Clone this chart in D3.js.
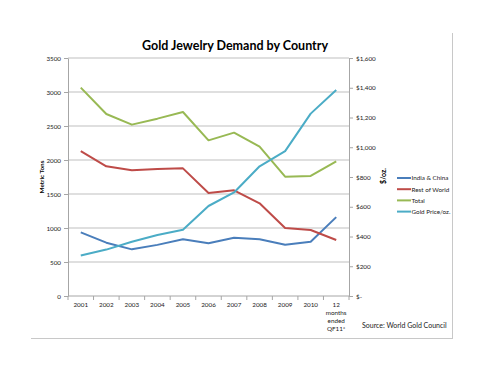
<!DOCTYPE html>
<html>
<head>
<meta charset="utf-8">
<script src="https://cdn.jsdelivr.net/npm/d3@7"></script>
<style>
  body { margin: 0; background: #fff; }
  svg { font-family: Lato, "Open Sans", sans-serif; }
</style>
</head>
<body>
<div id="chart"></div>
<script>
const categories = ['2001', '2002', '2003', '2004', '2005', '2006', '2007', '2008', '2009', '2010', '12 months ended QF11*']
const indiaChina = [936, 784, 686, 752, 834, 775, 857, 834, 755, 799, 1160]
const restOfWorld = [2132, 1907, 1848, 1868, 1877, 1515, 1554, 1363, 1000, 970, 824]
const total = [3064, 2676, 2520, 2608, 2706, 2289, 2402, 2196, 1755, 1765, 1981]
const goldPrice = [272, 312, 365, 410, 445, 605, 696, 872, 974, 1226, 1385]
const leftTicks = [0, 500, 1000, 1500, 2000, 2500, 3000, 3500]
const rightTicks = [0, 200, 400, 600, 800, 1000, 1200, 1400, 1600]

const series = [
  { name: 'India & China', values: indiaChina, axis: 'left', color: '#4a7ebb' },
  { name: 'Rest of World', values: restOfWorld, axis: 'left', color: '#be4b48' },
  { name: 'Total', values: total, axis: 'left', color: '#98b954' },
  { name: 'Gold Price/oz.', values: goldPrice, axis: 'right', color: '#4bacc6' }
]

const width = 490, height = 378
const plot = { left: 68, right: 349, top: 58, bottom: 296 }

const svg = d3.select('#chart').append('svg')
  .attr('width', width)
  .attr('height', height)

// frame lines
svg.append('line').attr('x1', 452.5).attr('x2', 452.5).attr('y1', 33).attr('y2', 338)
  .attr('stroke', '#c8c8c8')
svg.append('line').attr('x1', 31).attr('x2', 453).attr('y1', 338.5).attr('y2', 338.5)
  .attr('stroke', '#c8c8c8')

svg.append('text')
  .attr('x', 235).attr('y', 50)
  .attr('text-anchor', 'middle')
  .attr('font-size', 12.5).attr('font-weight', 'bold').attr('fill', '#000')
  .text('Gold Jewelry Demand by Country')

const x = d3.scaleBand().domain(categories).range([plot.left, plot.right])
const yL = d3.scaleLinear().domain([0, 3500]).range([plot.bottom, plot.top])
const yR = d3.scaleLinear().domain([0, 1600]).range([plot.bottom, plot.top])

// gridlines
svg.append('g').selectAll('line')
  .data(leftTicks.filter(d => d > 0))
  .join('line')
  .attr('x1', plot.left).attr('x2', plot.right)
  .attr('y1', d => yL(d)).attr('y2', d => yL(d))
  .attr('stroke', '#d4d4d4').attr('stroke-width', 1.6)

const styleAxis = g => {
  g.select('.domain').attr('stroke', '#a6a6a6')
  g.selectAll('.tick line').attr('stroke', '#a6a6a6')
  g.selectAll('.tick text').attr('fill', '#222').attr('font-size', 6.3)
    .attr('font-family', 'Lato, "Open Sans", sans-serif')
}

svg.append('g')
  .attr('transform', `translate(${plot.left},0)`)
  .call(d3.axisLeft(yL).tickValues(leftTicks).tickSize(4).tickSizeOuter(0).tickPadding(3)
    .tickFormat(d3.format('d')))
  .call(styleAxis)

svg.append('g')
  .attr('transform', `translate(${plot.right},0)`)
  .call(d3.axisRight(yR).tickValues(rightTicks).tickSize(4).tickSizeOuter(0).tickPadding(3)
    .tickFormat(d => d === 0 ? '$-' : '$' + d3.format(',')(d)))
  .call(styleAxis)

// x axis: ticks between categories
const xg = svg.append('g')
  .attr('transform', `translate(0,${plot.bottom})`)
xg.append('line').attr('x1', plot.left).attr('x2', plot.right)
  .attr('stroke', '#a6a6a6')
xg.selectAll('line.tk')
  .data(categories.map(c => x(c)).concat([plot.right]))
  .join('line').attr('class', 'tk')
  .attr('x1', d => d).attr('x2', d => d).attr('y1', 0).attr('y2', 4)
  .attr('stroke', '#a6a6a6')
categories.forEach(c => {
  const words = c.split(' ')
  const lines = words.length > 1 ? ['12', 'months', 'ended', 'QF11*'] : [c]
  const t = xg.append('text')
    .attr('x', x(c) + x.bandwidth() / 2).attr('y', 11)
    .attr('text-anchor', 'middle').attr('font-size', 6.3).attr('fill', '#222')
  lines.forEach((l, i) => t.append('tspan')
    .attr('x', x(c) + x.bandwidth() / 2).attr('dy', i === 0 ? 0 : 8).text(l))
})

// axis titles
svg.append('text')
  .attr('transform', 'translate(44,177) rotate(-90)')
  .attr('text-anchor', 'middle').attr('font-size', 6.3).attr('font-weight', 'bold')
  .text('Metric Tons')
svg.append('text')
  .attr('transform', 'translate(386,176) rotate(-90)')
  .attr('text-anchor', 'middle').attr('font-size', 7).attr('font-weight', 'bold')
  .text('$/oz.')

// lines
const line = s => d3.line()
  .x((d, i) => x(categories[i]) + x.bandwidth() / 2)
  .y(d => s.axis === 'left' ? yL(d) : yR(d))

svg.append('g').selectAll('path')
  .data(series)
  .join('path')
  .attr('d', s => line(s)(s.values))
  .attr('fill', 'none')
  .attr('stroke', s => s.color)
  .attr('stroke-width', 2)
  .attr('stroke-linejoin', 'round')

// legend
const lg = svg.append('g').selectAll('g')
  .data(series)
  .join('g')
  .attr('transform', (d, i) => `translate(397,${178 + i * 11.2})`)
lg.append('line').attr('x1', 0).attr('x2', 14)
  .attr('stroke', d => d.color).attr('stroke-width', 2)
lg.append('text').attr('x', 14.5).attr('y', 2.3)
  .attr('font-size', 6.3).attr('fill', '#222')
  .text(d => d.name)

svg.append('text')
  .attr('x', 362).attr('y', 328)
  .attr('font-size', 7).attr('fill', '#222')
  .text('Source: World Gold Council')
</script>
</body>
</html>
